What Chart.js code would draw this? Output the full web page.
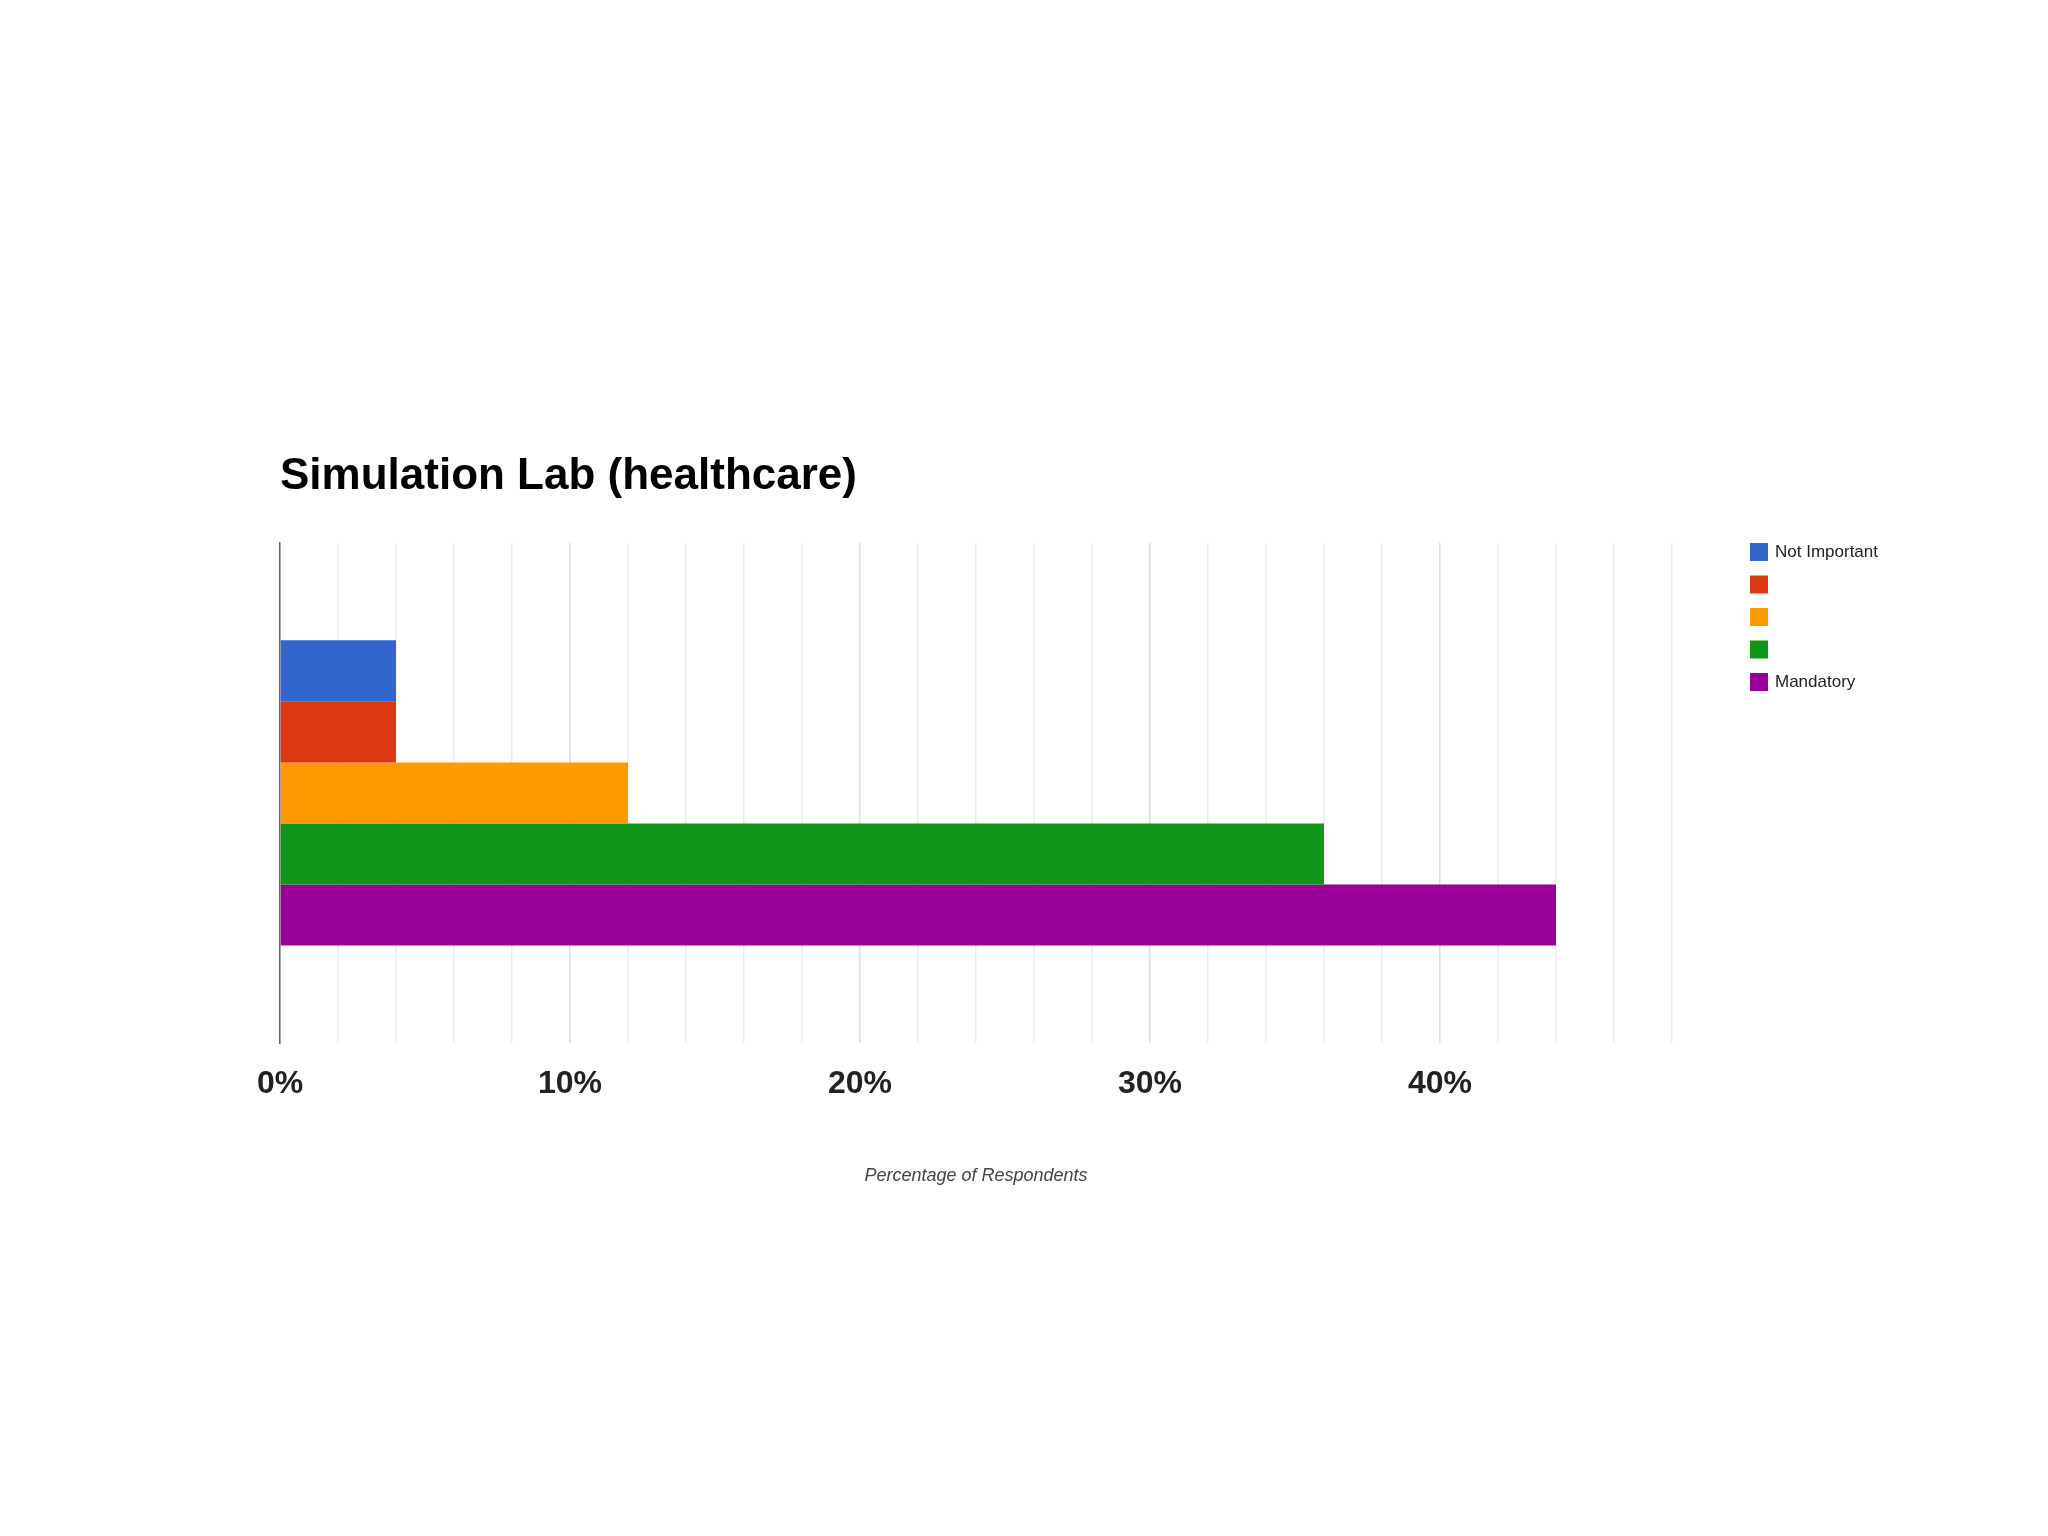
<!DOCTYPE html>
<html><head><meta charset="utf-8">
<script src="https://cdn.jsdelivr.net/npm/chart.js@4"></script>
<style>html,body{margin:0;background:#fff}#w{width:2048px;height:1536px}</style>
</head><body><div id="w"><canvas id="c"></canvas></div>
<script>
const categories = ["Simulation Lab (healthcare)"];
const seriesLabels = ["Not Important", "", "", "", "Mandatory"];
const seriesValues = [4, 4, 12, 36, 44];
const seriesColors = ["#3366cc", "#dc3912", "#ff9900", "#109618", "#990099"];
const tickLabels = ["0%", "10%", "20%", "30%", "40%"];

const legendPlugin = {
  id: 'fixedLegend',
  afterDraw(chart) {
    const ctx = chart.ctx;
    ctx.save();
    ctx.font = '17px "Liberation Sans", Arial, sans-serif';
    ctx.textBaseline = 'middle';
    chart.data.datasets.forEach((ds, i) => {
      const y = 552 + i * 32.5;
      ctx.fillStyle = ds.backgroundColor;
      ctx.fillRect(1750, y - 9, 18, 18);
      ctx.fillStyle = '#222';
      ctx.fillText(ds.label, 1775, y);
    });
    ctx.restore();
  }
};

new Chart(document.getElementById('c'), {
  type: 'bar',
  data: {
    labels: [""],
    datasets: seriesValues.map((v, i) => ({
      label: seriesLabels[i], data: [v], backgroundColor: seriesColors[i],
      categoryPercentage: 0.61, barPercentage: 1.0, borderWidth: 0
    }))
  },
  options: {
    indexAxis: 'y', responsive: true, maintainAspectRatio: false, animation: false,
    layout: { padding: { top: 450, left: 280, right: 376, bottom: 345 } },
    plugins: {
      legend: { display: false },
      tooltip: { enabled: false },
      title: { display: true, text: categories[0], align: 'start',
        color: '#000', font: { size: 44, weight: 'bold', family: '"Liberation Sans", Arial, sans-serif' },
        padding: { top: 0, bottom: 40 } }
    },
    scales: {
      x: { min: 0, max: 48,
        ticks: { stepSize: 2, autoSkip: false, maxRotation: 0, padding: 22, color: '#222',
          font: { size: 32, weight: 'bold', family: '"Liberation Sans", Arial, sans-serif' },
          callback: (v) => (v % 10 === 0 && v <= 40) ? tickLabels[v / 10] : '' },
        grid: { color: (c) => (c.tick && c.tick.value % 10 === 0) ? '#dcdce4' : '#ececf2', lineWidth: 1.5, drawTicks: false },
        border: { display: false },
        title: { display: true, text: 'Percentage of Respondents', color: '#444',
          font: { size: 18, style: 'italic', family: '"Liberation Sans", Arial, sans-serif' }, padding: { top: 40 } }
      },
      y: { ticks: { display: false }, grid: { display: false, drawTicks: false },
        border: { display: true, color: '#666', width: 1.5 } }
    }
  },
  plugins: [legendPlugin]
});
</script></body></html>
